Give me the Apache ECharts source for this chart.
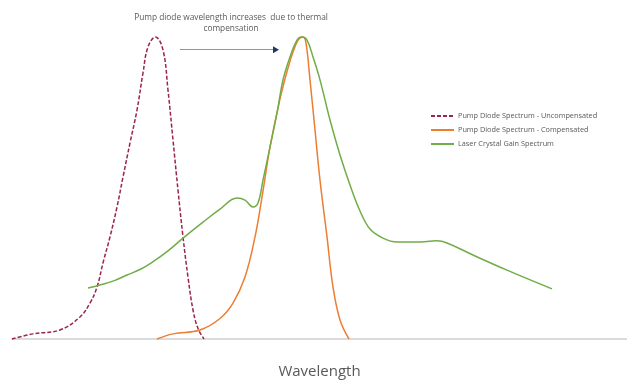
<!DOCTYPE html>
<html>
<head>
<meta charset="utf-8">
<title>Pump diode spectrum</title>
<script src="https://cdn.jsdelivr.net/npm/echarts@6/dist/echarts.min.js"></script>
<style>
  html, body { margin: 0; padding: 0; background: #fff; }
  #chart { width: 627px; height: 383px; }
</style>
</head>
<body>
<div id="chart"></div>
<script>
// wavelength positions (arbitrary units) and relative intensity
const uncompX = [12, 33, 60, 80, 90, 97, 103, 110, 117, 123, 130, 137, 143, 148, 155.5, 163, 168, 173, 178, 183, 188, 193, 198, 204]
const uncompY = [0, 0.017, 0.03, 0.073, 0.119, 0.172, 0.252, 0.338, 0.437, 0.536, 0.649, 0.758, 0.881, 0.967, 1.0, 0.957, 0.824, 0.659, 0.493, 0.338, 0.205, 0.096, 0.035, 0]

const compX = [157, 173, 200, 220, 233, 245, 255, 262, 270, 280, 290, 298, 303, 306, 310, 315, 320, 327, 333, 340, 349]
const compY = [0, 0.017, 0.03, 0.068, 0.119, 0.205, 0.338, 0.47, 0.635, 0.795, 0.92, 0.99, 1.0, 0.98, 0.858, 0.692, 0.526, 0.338, 0.172, 0.063, 0]

const gainX = [88, 100, 115, 127, 140, 153, 168, 183, 203, 220, 237, 245, 253, 258, 263, 270, 277, 283, 290, 297, 302, 307, 313, 320, 330, 340, 350, 360, 370, 383, 397, 417, 437, 447, 473, 507, 552]
const gainY = [0.169, 0.179, 0.194, 0.212, 0.23, 0.256, 0.292, 0.334, 0.387, 0.43, 0.467, 0.46, 0.437, 0.45, 0.526, 0.636, 0.748, 0.858, 0.934, 0.99, 1.0, 0.99, 0.934, 0.858, 0.725, 0.609, 0.51, 0.424, 0.364, 0.334, 0.321, 0.321, 0.325, 0.318, 0.278, 0.228, 0.166]

const seriesNames = [
  'Pump Diode Spectrum - Uncompensated',
  'Pump Diode Spectrum - Compensated',
  'Laser Crystal Gain Spectrum'
]
const noteText = 'Pump diode wavelength increases  due to thermal\ncompensation'
const shiftArrow = [[180, 0.958], [276, 0.958]]

const zip = (xs, ys) => xs.map((x, i) => [x, ys[i]])

const chart = echarts.init(document.getElementById('chart'))

const option = {
  animation: false,
  textStyle: { fontFamily: 'Open Sans' },
  title: {
    text: noteText,
    left: 231,
    top: 12,
    padding: 0,
    textAlign: 'center',
    textStyle: {
      fontSize: 8.3,
      fontWeight: 'normal',
      color: '#595959',
      lineHeight: 11
    }
  },
  legend: {
    orient: 'vertical',
    left: 430,
    top: 112,
    padding: 0,
    itemWidth: 23,
    itemHeight: 8,
    itemGap: 6,
    data: seriesNames,
    itemStyle: { opacity: 0 },
    textStyle: { fontSize: 7.3, lineHeight: 8, color: '#595959', padding: [0, 0, 0, -1] }
  },
  grid: {
    left: 12,
    right: 0,
    top: 37,
    bottom: 44,
    outerBoundsMode: 'none'
  },
  xAxis: {
    type: 'value',
    min: 12,
    max: 627,
    name: 'Wavelength',
    nameLocation: 'middle',
    nameGap: 25,
    nameTextStyle: { fontSize: 15, color: '#595959' },
    axisLine: { lineStyle: { color: '#d0d0d0', width: 1.5 } },
    axisTick: { show: false },
    axisLabel: { show: false },
    splitLine: { show: false }
  },
  yAxis: {
    type: 'value',
    min: 0,
    max: 1,
    show: false
  },
  series: [
    {
      name: seriesNames[0],
      type: 'line',
      data: zip(uncompX, uncompY),
      smooth: 0.4,
      symbol: 'none',
      clip: false,
      lineStyle: { color: '#9b2548', width: 1.5, type: [4, 2] },
      itemStyle: { color: '#9b2548' },
      markLine: {
        silent: true,
        symbol: ['none', 'none'],
        label: { show: false },
        lineStyle: { color: '#8497b0', width: 1.2, type: 'solid' },
        data: [[{ coord: shiftArrow[0] }, { coord: shiftArrow[1] }]]
      },
      markPoint: {
        silent: true,
        symbol: 'triangle',
        symbolSize: [7, 6],
        symbolRotate: -90,
        label: { show: false },
        itemStyle: { color: '#1f3864' },
        data: [{ coord: shiftArrow[1] }]
      }
    },
    {
      name: seriesNames[1],
      type: 'line',
      data: zip(compX, compY),
      smooth: 0.4,
      symbol: 'none',
      clip: false,
      lineStyle: { color: '#ed7d31', width: 1.5 },
      itemStyle: { color: '#ed7d31' }
    },
    {
      name: seriesNames[2],
      type: 'line',
      data: zip(gainX, gainY),
      smooth: 0.4,
      symbol: 'none',
      clip: false,
      lineStyle: { color: '#70ad47', width: 1.5 },
      itemStyle: { color: '#70ad47' }
    }
  ]
}

chart.setOption(option)
</script>
</body>
</html>
